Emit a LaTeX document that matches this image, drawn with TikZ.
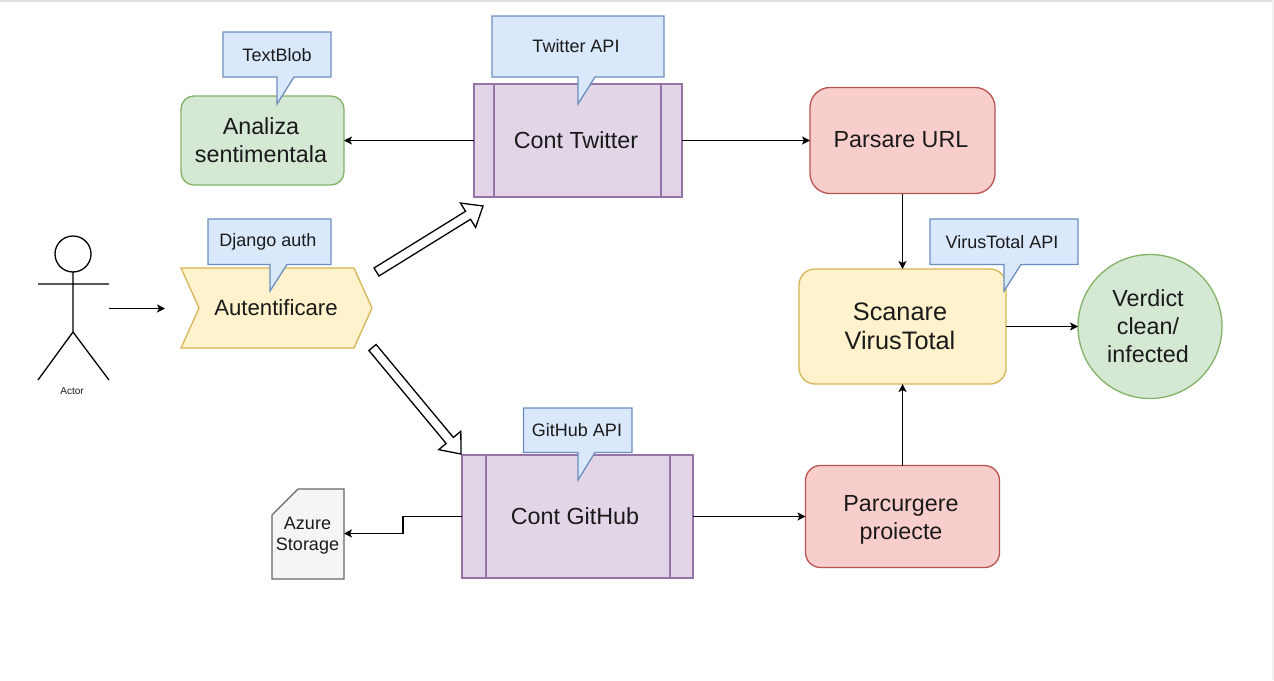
\documentclass[tikz,border=0pt]{standalone}
\usepackage{fontspec}
\setmainfont{Liberation Sans}
\usetikzlibrary{arrows.meta,calc}
\definecolor{gf}{HTML}{D5E8D4}\definecolor{gd}{HTML}{82B366}
\definecolor{yf}{HTML}{FFF2CC}\definecolor{yd}{HTML}{D6B656}
\definecolor{bf}{HTML}{DAE8FC}\definecolor{bd}{HTML}{6C8EBF}
\definecolor{pf}{HTML}{E1D5E7}\definecolor{pd}{HTML}{9673A6}
\definecolor{rf}{HTML}{F8CECC}\definecolor{rd}{HTML}{B85450}
\definecolor{sf}{HTML}{F5F5F5}\definecolor{sd}{HTML}{666666}
\definecolor{tx}{HTML}{1A1A1A}
\tikzset{
  box/.style={inner sep=0pt,outer sep=0pt,line width=1.3pt},
  green box/.style={box,fill=gf,draw=gd},
  yellow box/.style={box,fill=yf,draw=yd},
  red box/.style={box,fill=rf,draw=rd},
  purple box/.style={box,fill=pf,draw=pd},
  boxlabel/.style={inner sep=0pt,align=center,text=tx,font=\fontsize{23.3}{28}\selectfont},
  flow/.style={-{Stealth[length=8pt,width=8pt,inset=2pt]},line width=1.4pt,black},
  calloutshape/.style={fill=bf,draw=bd,line width=1.3pt,line join=miter},
  calloutlabel/.style={inner sep=0pt,text=tx,font=\fontsize{18}{20}\selectfont},
  inner rule/.style={draw=pd,line width=1.3pt},
  stick/.style={draw=black,line width=1.3pt},
  block/.style={draw=black,fill=white,line width=1.3pt,line join=miter}
}
% callout: left, top, right, bottom, tail x, tail tip y
\newcommand{\calloutbox}[6]{\draw[calloutshape] (#1,#2) -- (#3,#2) -- (#3,#4) -- (#5+17,#4) -- (#5,#6) -- (#5,#4) -- (#1,#4) -- cycle;}
% block arrow between two named coordinates
\newcommand{\blockarrow}[2]{\draw[block]
  ($(#1)!4.7pt!90:(#2)$) -- ($(#1)!4.7pt!-90:(#2)$)
  -- ($($(#2)!17.6pt!(#1)$)!4.7pt!-90:(#2)$)
  -- ($($(#2)!17.6pt!(#1)$)!14.4pt!-90:(#2)$)
  -- (#2)
  -- ($($(#2)!17.6pt!(#1)$)!14.4pt!90:(#2)$)
  -- ($($(#2)!17.6pt!(#1)$)!4.7pt!90:(#2)$)
  -- cycle;}
\begin{document}
\begin{tikzpicture}[x=1pt,y=-1pt]
\useasboundingbox (0,0) rectangle (1274,680);
\fill[white] (0,0) rectangle (1274,680);
\fill[black!12] (0,0) rectangle (1274,1.6);
\fill[black!6] (1271.5,0) rectangle (1274,680);

% nodes
\node[green box,rounded corners=13pt,minimum width=163pt,minimum height=89pt] (analiza) at (262.5,140.5) {};
\node[boxlabel] (analizatext) at (261,140) {Analiza\\sentimentala};
\node[inner sep=0pt,outer sep=0pt,minimum width=191pt,minimum height=80pt] (auth) at (276.5,308) {};
\draw[yellow box] (181,268) -- (354,268) -- (372,308) -- (354,348) -- (181,348) -- (199,308) -- cycle;
\node[boxlabel,font=\fontsize{22.2}{28}\selectfont] (authtext) at (276,308) {Autentificare};
\node[purple box,minimum width=208pt,minimum height=113pt] (twitter) at (578,140.5) {};
\draw[inner rule] (494,84) -- (494,197) (661,84) -- (661,197);
\node[boxlabel] (twittertext) at (576,140) {Cont Twitter};
\node[red box,rounded corners=20pt,minimum width=185pt,minimum height=106pt] (parsare) at (902.5,140.5) {};
\node[boxlabel] (parsaretext) at (901,140) {Parsare URL};
\node[yellow box,rounded corners=16pt,minimum width=207pt,minimum height=115pt] (scanare) at (902.5,326.5) {};
\node[boxlabel,font=\fontsize{25.3}{29}\selectfont] (scanaretext) at (900,326.5) {Scanare\\VirusTotal};
\node[green box,circle,minimum size=144pt] (verdict) at (1150,326.5) {};
\node[boxlabel] (verdicttext) at (1148,326.5) {Verdict\\clean/\\infected};
\node[red box,rounded corners=15pt,minimum width=194pt,minimum height=102pt] (parcurgere) at (902.5,516.5) {};
\node[boxlabel] (parcurgeretext) at (901,519.5) {Parcurgere\\proiecte};
\node[purple box,minimum width=231pt,minimum height=123pt] (github) at (577.5,516.5) {};
\draw[inner rule] (486,455) -- (486,578) (670,455) -- (670,578);
\node[boxlabel] (githubtext) at (575,516) {Cont GitHub};
\draw[fill=sf,draw=sd,line width=1.3pt] (272,515) -- (298,489) -- (344,489) -- (344,579) -- (272,579) -- cycle;
\node[inner sep=0pt,align=center,text=tx,font=\fontsize{18}{21}\selectfont] (azure) at (307.5,535.5) {Azure\\Storage};
\coordinate (azureport) at (344,533.5);

% actor
\draw[stick] (73,254) circle (18);
\draw[stick] (73,272) -- (73,332) (38,284) -- (109,284) (38,380) -- (73,332) -- (109,380);
\node[inner sep=0pt,text=tx,font=\fontsize{10}{12}\selectfont] (actor) at (72,391) {Actor};
\coordinate (actorport) at (109,308.5);
\coordinate (authin) at (165,308.5);

% connectors
\draw[flow] (actorport) -- (authin);
\draw[flow] (twitter.west) -- (analiza.east);
\draw[flow] (twitter.east) -- (parsare.west);
\draw[flow] (parsare.south) -- (scanare.north);
\draw[flow] (parcurgere.north) -- (scanare.south);
\draw[flow] (scanare.east) -- (verdict.west);
\draw[flow] (github.east) -- (parcurgere.west);
\draw[flow] (github.west) -- (403,516.5) -- (403,533.5) -- (azureport);

% block arrows
\coordinate (b1s) at (376.5,272);
\coordinate (b1t) at (483,206);
\coordinate (b2s) at (372.5,347.5);
\coordinate (b2t) at (461,454);
\blockarrow{b1s}{b1t}
\blockarrow{b2s}{b2t}

% callouts
\calloutbox{223}{32}{331}{77}{277}{104}
\node[calloutlabel] (c1) at (277,55) {TextBlob};
\calloutbox{208}{219}{331}{264.5}{270}{291}
\node[calloutlabel] (c2) at (268,242) {Django auth};
\calloutbox{492}{16}{664}{77}{578}{104}
\node[calloutlabel] (c3) at (576,46) {Twitter API};
\calloutbox{523.5}{408}{632}{452.5}{578}{480}
\node[calloutlabel] (c4) at (577,430) {GitHub API};
\calloutbox{930}{219}{1078}{264.5}{1004}{291}
\node[calloutlabel] (c5) at (1002,242) {VirusTotal API};
\end{tikzpicture}
\end{document}
